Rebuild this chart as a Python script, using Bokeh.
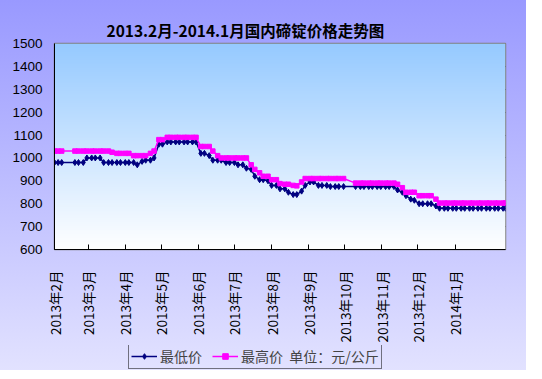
import numpy as np
import pandas as pd
from bokeh.plotting import figure
from bokeh.layouts import column
from bokeh.models import Range1d, FixedTicker, Legend, LegendItem, ColumnDataSource
from bokeh.embed import file_html
from bokeh.resources import INLINE

title_text = "2013.2月-2014.1月国内碲锭价格走势图"

dates = [
    "2013-02-01", "2013-02-04", "2013-02-07", "2013-02-18", "2013-02-21", "2013-02-25", "2013-02-28",
    "2013-03-04", "2013-03-07", "2013-03-11", "2013-03-14", "2013-03-18", "2013-03-21", "2013-03-25", "2013-03-28",
    "2013-04-01", "2013-04-04", "2013-04-08", "2013-04-11", "2013-04-15", "2013-04-18", "2013-04-22", "2013-04-25", "2013-04-29",
    "2013-05-02", "2013-05-06", "2013-05-09", "2013-05-13", "2013-05-16", "2013-05-20", "2013-05-23", "2013-05-27", "2013-05-30",
    "2013-06-03", "2013-06-06", "2013-06-10", "2013-06-13", "2013-06-17", "2013-06-20", "2013-06-24", "2013-06-27",
    "2013-07-01", "2013-07-04", "2013-07-08", "2013-07-11", "2013-07-15", "2013-07-18", "2013-07-22", "2013-07-25", "2013-07-29",
    "2013-08-01", "2013-08-05", "2013-08-08", "2013-08-12", "2013-08-15", "2013-08-19", "2013-08-22", "2013-08-26", "2013-08-29",
    "2013-09-02", "2013-09-05", "2013-09-09", "2013-09-12", "2013-09-16", "2013-09-19", "2013-09-23", "2013-09-26", "2013-09-30",
    "2013-10-10", "2013-10-14", "2013-10-17", "2013-10-21", "2013-10-24", "2013-10-28", "2013-10-31",
    "2013-11-04", "2013-11-07", "2013-11-11", "2013-11-14", "2013-11-18", "2013-11-21", "2013-11-25", "2013-11-28",
    "2013-12-02", "2013-12-05", "2013-12-09", "2013-12-12", "2013-12-16", "2013-12-19", "2013-12-23", "2013-12-26", "2013-12-30",
    "2014-01-02", "2014-01-06", "2014-01-09", "2014-01-13", "2014-01-16", "2014-01-20", "2014-01-23", "2014-01-27", "2014-01-30",
    "2014-02-03", "2014-02-06", "2014-02-10", "2014-02-12",
]

low_price = [
    980, 980, 980, 980, 980, 980, 1000,
    1000, 1000, 1000, 980, 980, 980, 980, 980,
    980, 980, 980, 970, 985, 990, 990, 1000, 1060,
    1060, 1070, 1070, 1070, 1070, 1070, 1070, 1070, 1070,
    1020, 1020, 1010, 990, 990, 990, 980, 980,
    980, 970, 970, 955, 950, 920, 905, 905, 900,
    880, 880, 865, 865, 850, 840, 840, 855, 880,
    895, 895, 880, 880, 880, 875, 875, 875, 875,
    875, 875, 875, 875, 875, 875, 875,
    875, 875, 875, 860, 850, 835, 820, 815,
    800, 800, 800, 800, 790, 780, 780, 780, 780,
    780, 780, 780, 780, 780, 780, 780, 780, 780,
    780, 780, 780, 780,
]

high_price = [
    1030, 1030, 1030, 1030, 1030, 1030, 1030,
    1030, 1030, 1030, 1030, 1030, 1025, 1020, 1020,
    1020, 1020, 1010, 1010, 1010, 1010, 1020, 1030, 1080,
    1080, 1090, 1090, 1090, 1090, 1090, 1090, 1090, 1090,
    1050, 1050, 1050, 1030, 1010, 1000, 1000, 1000,
    1000, 1000, 1000, 1000, 970, 950, 935, 920, 920,
    905, 905, 888, 885, 885, 880, 878, 895, 910,
    910, 910, 910, 910, 910, 910, 910, 910, 910,
    890, 890, 890, 890, 890, 890, 890,
    890, 890, 890, 885, 870, 850, 850, 850,
    835, 835, 835, 835, 820, 803, 803, 803, 803,
    803, 803, 803, 803, 803, 803, 803, 803, 803,
    803, 803, 803, 803,
]

month_ticks = ["2013-02-01", "2013-03-01", "2013-04-01", "2013-05-01", "2013-06-01", "2013-07-01",
               "2013-08-01", "2013-09-01", "2013-10-01", "2013-11-01", "2013-12-01", "2014-01-01"]
month_labels = ["2013年2月", "2013年3月", "2013年4月", "2013年5月", "2013年6月", "2013年7月",
                "2013年8月", "2013年9月", "2013年10月", "2013年11月", "2013年12月", "2014年1月"]
y_ticks = [600, 700, 800, 900, 1000, 1100, 1200, 1300, 1400, 1500]

series_names = ["最低价", "最高价  单位：元/公斤"]

def ms(s):
    return pd.Timestamp(s).value / 1e6

x0 = ms("2013-02-01")
x1 = ms("2014-02-12")
y0, y1 = y_ticks[0], y_ticks[-1]

src = ColumnDataSource(dict(x=[ms(d) for d in dates], low=low_price, high=high_price))

LOW_C, HIGH_C = "#000080", "#FF00FF"

fig = figure(frame_width=451, frame_height=206, x_axis_type="datetime",
             x_range=Range1d(x0, x1), y_range=Range1d(y0, y1),
             output_backend="svg", toolbar_location=None,
             min_border_left=54, min_border_right=21, min_border_top=43, min_border_bottom=0)
fig.border_fill_alpha = 0
fig.background_fill_color = "white"

# plot-area gradient (white bottom -> light blue top)
n = 200
img = np.zeros((n, 1), dtype=np.uint32)
view = img.view(dtype=np.uint8).reshape((n, 1, 4))
t = np.linspace(0, 1, n)
top = np.array([150, 202, 255])
bot = np.array([255, 255, 255])
for i in range(n):
    c = bot * (1 - t[i]) + top * t[i]
    view[i, 0, 0] = int(c[0]); view[i, 0, 1] = int(c[1]); view[i, 0, 2] = int(c[2]); view[i, 0, 3] = 255
fig.image_rgba(image=[img], x=x0, y=y0, dw=x1 - x0, dh=y1 - y0)

fig.title.text = title_text
fig.title.align = "left"
fig.title.offset = 52
fig.title.text_font = "Noto Sans CJK SC"
fig.title.text_font_size = "15.5px"
fig.title.text_font_style = "bold"
fig.title.text_color = "black"
fig.title.standoff = 6

fig.ygrid.grid_line_color = "black"
fig.ygrid.grid_line_width = 1
fig.xgrid.visible = False
fig.outline_line_color = "#808080"
fig.outline_line_width = 1.5

fig.yaxis.ticker = FixedTicker(ticks=y_ticks)
fig.yaxis.major_tick_in = 0
fig.yaxis.major_tick_out = 0
fig.yaxis.minor_tick_line_color = None
fig.yaxis.axis_line_color = "black"
fig.yaxis.major_label_standoff = 12
fig.yaxis.major_label_text_font = "Liberation Sans"
fig.yaxis.major_label_text_font_size = "13.5px"
fig.yaxis.major_label_text_color = "black"

tick_ms = [ms(d) for d in month_ticks]
fig.xaxis.ticker = FixedTicker(ticks=tick_ms)
fig.xaxis.major_label_overrides = {k: v for k, v in zip(tick_ms, month_labels)}
fig.xaxis.major_label_orientation = np.pi / 2
fig.xaxis.major_tick_in = 5
fig.xaxis.major_tick_out = 0
fig.xaxis.minor_tick_line_color = None
fig.xaxis.axis_line_color = "black"
fig.xaxis.major_label_standoff = 21
fig.xaxis.major_label_text_font = "Noto Sans CJK SC"
fig.xaxis.major_label_text_font_size = "13.5px"
fig.xaxis.major_label_text_color = "black"

fig.line("x", "low", source=src, line_color=LOW_C, line_width=1.5)
fig.scatter("x", "low", source=src, marker="diamond", size=6, color=LOW_C)
fig.line("x", "high", source=src, line_color=HIGH_C, line_width=1.5)
fig.scatter("x", "high", source=src, marker="square", size=4.5, color=HIGH_C)

# separate strip holding the legend (same series, drawn out of view)
leg = figure(width=526, height=25, x_range=Range1d(0, 1), y_range=Range1d(0, 1),
             output_backend="svg", toolbar_location=None,
             min_border=0, x_axis_type=None, y_axis_type=None)
leg.border_fill_alpha = 0
leg.background_fill_alpha = 0
leg.outline_line_color = None
leg.grid.visible = False
g1 = leg.line("x", "low", source=src, line_color=LOW_C, line_width=1.5)
g2 = leg.scatter("x", "low", source=src, marker="diamond", size=6, color=LOW_C)
g3 = leg.line("x", "high", source=src, line_color=HIGH_C, line_width=1.5)
g4 = leg.scatter("x", "high", source=src, marker="square", size=4.5, color=HIGH_C)

legend = Legend(items=[LegendItem(label=series_names[0], renderers=[g1, g2]),
                       LegendItem(label=series_names[1], renderers=[g3, g4])],
                location=(74, 1), orientation="horizontal",
                border_line_color="black", border_line_width=1,
                background_fill_alpha=0, label_text_font="Noto Sans CJK SC",
                label_text_font_size="14px", glyph_width=26, glyph_height=14,
                padding=2, spacing=10, margin=0, label_standoff=3, label_height=16)
leg.add_layout(legend)

p = column(fig, leg, spacing=0)
p.styles = {"background": "linear-gradient(#9999FF, #E2E2FF)"}

open("out.html", "w").write(file_html(p, INLINE))
